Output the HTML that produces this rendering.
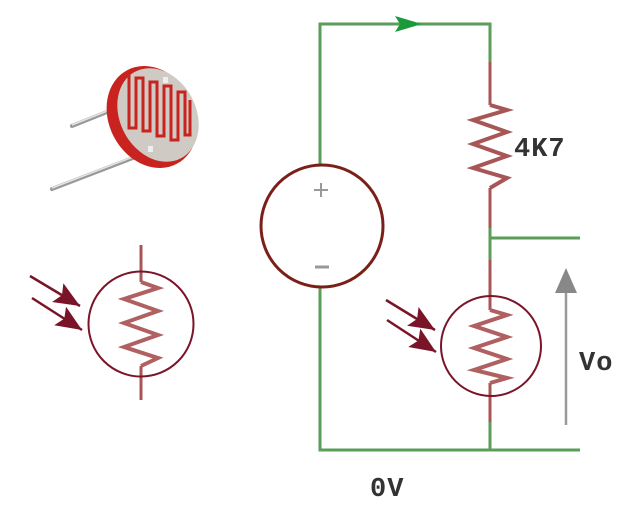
<!DOCTYPE html>
<html><head><style>
body{margin:0;background:#fff;width:640px;height:505px;overflow:hidden}
svg{display:block}
text{font-family:"Liberation Mono",monospace;font-weight:bold;fill:#333}
</style></head><body>
<svg width="640" height="505" viewBox="0 0 640 505">
<defs>
<marker id="ah" markerWidth="28" markerHeight="24" refX="26" refY="11" orient="auto" markerUnits="userSpaceOnUse">
<polygon points="0,0 26,11 0,22 5,11" fill="#7a1428"/>
</marker>
</defs>
<!-- photo LDR -->
<g>
<line x1="52" y1="189" x2="138" y2="156" stroke="#999" stroke-width="4" stroke-linecap="round"/>
<line x1="52" y1="188" x2="138" y2="155" stroke="#e4e4e4" stroke-width="1.5"/>
<line x1="72" y1="126" x2="112" y2="110" stroke="#999" stroke-width="4" stroke-linecap="round"/>
<line x1="72" y1="125" x2="112" y2="109" stroke="#e4e4e4" stroke-width="1.5"/>
<ellipse cx="152" cy="117" rx="43" ry="53" fill="#c8231f" transform="rotate(-28 152 117)"/>
<ellipse cx="158" cy="115" rx="38" ry="49" fill="#cfcac4" transform="rotate(-28 158 115)"/>
<path d="M129,75 V128 H136 V78 H143 V131 H150 V82 H157 V136 H164 V86 H171 V140 H178 V92 H185 V135 H190 V100" fill="none" stroke="#c8231f" stroke-width="3"/>
<rect x="163" y="77" width="5" height="6" fill="#eee"/>
<rect x="148" y="146" width="5" height="6" fill="#eee"/>
</g>
<!-- left symbol -->
<g stroke="#7a1428" fill="none">
<line x1="141" y1="245" x2="141" y2="282" stroke="#a55" stroke-width="3"/>
<line x1="141" y1="366" x2="141" y2="400" stroke="#a55" stroke-width="3"/>
<polyline points="141,282 158,288 124,299 158,311 124,323 158,335 124,347 158,358 141,366" stroke="#b06060" stroke-width="4"/>
<circle cx="141" cy="324" r="52.5" stroke-width="2"/>
<line x1="30" y1="276" x2="80" y2="306" stroke-width="2.5" marker-end="url(#ah)"/>
<line x1="32" y1="298" x2="82" y2="330" stroke-width="2.5" marker-end="url(#ah)"/>
</g>
<!-- circuit green wires -->
<g stroke="#5a9e5a" stroke-width="3" fill="none">
<polyline points="320,165 320,24 490,24 490,62"/>
<polyline points="490,228 490,260"/>
<line x1="490" y1="238" x2="580" y2="238"/>
<polyline points="320,287 320,450 580,450"/>
<line x1="490" y1="422" x2="490" y2="450"/>
</g>
<polygon points="395,16 422,24 395,32 400,24" fill="#1a9a3a"/>
<!-- source -->
<circle cx="322" cy="226" r="61" fill="none" stroke="#7a2018" stroke-width="3"/>
<path d="M314,190 H328 M321,183 V197" stroke="#999" stroke-width="2"/>
<path d="M315,267 H329" stroke="#999" stroke-width="3"/>
<!-- 4K7 resistor -->
<g stroke="#a85555" fill="none" stroke-width="3">
<line x1="490" y1="62" x2="490" y2="105"/>
<line x1="490" y1="188" x2="490" y2="228"/>
<polyline points="490,105 507,110 473,120 507,132 473,144 507,156 473,168 507,178 490,188" stroke-width="4"/>
</g>
<text x="514" y="156" font-size="27" letter-spacing="1">4K7</text>
<!-- right LDR -->
<g stroke="#7a1428" fill="none">
<line x1="490" y1="260" x2="490" y2="310" stroke="#a85555" stroke-width="3"/>
<line x1="490" y1="383" x2="490" y2="422" stroke="#a85555" stroke-width="3"/>
<polyline points="490,310 507,315 474,326 507,337 474,348 507,359 474,370 507,378 490,383" stroke="#b06060" stroke-width="4"/>
<circle cx="491" cy="346" r="50" stroke-width="2"/>
<line x1="386" y1="300" x2="435" y2="330" stroke-width="2.5" marker-end="url(#ah)"/>
<line x1="387" y1="320" x2="436" y2="352" stroke-width="2.5" marker-end="url(#ah)"/>
</g>
<!-- Vo arrow -->
<line x1="566" y1="425" x2="566" y2="292" stroke="#999" stroke-width="2.5"/>
<polygon points="566,268 555,293 577,293" fill="#888"/>
<text x="579" y="370" font-size="27" letter-spacing="1">Vo</text>
<text x="370" y="496" font-size="27" letter-spacing="1">0V</text>
</svg>
</body></html>
